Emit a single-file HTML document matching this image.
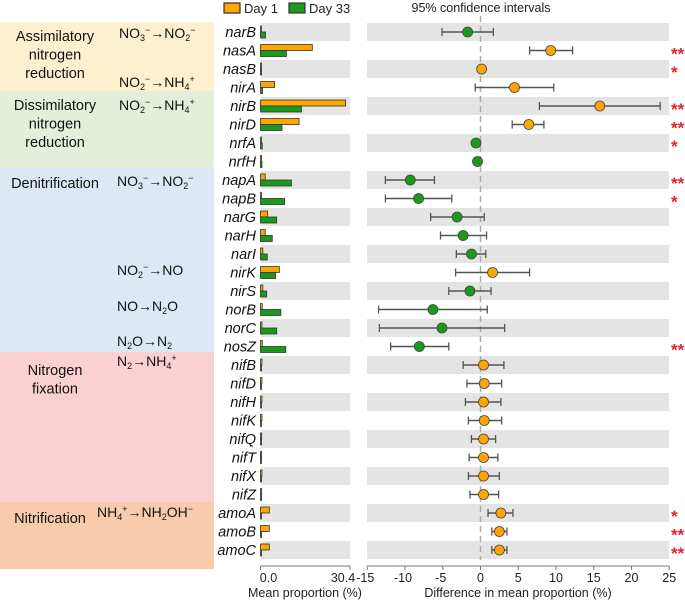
<!DOCTYPE html>
<html><head><meta charset="utf-8"><style>
body{margin:0;background:#fff;}
svg{display:block;font-family:"Liberation Sans",sans-serif;}
</style></head><body>
<svg id="c" width="685" height="600" viewBox="0 0 685 600">
<rect x="0" y="22.5" width="214" height="68.5" fill="#fdf0cf"/>
<rect x="0" y="91" width="214" height="77" fill="#e3efd9"/>
<rect x="0" y="168" width="214" height="184" fill="#dce8f5"/>
<rect x="0" y="352" width="214" height="150" fill="#fbd0d0"/>
<rect x="0" y="502" width="214" height="67" fill="#f8cbad"/>
<g font-size="14.5" fill="#111" text-anchor="middle">
<text x="55" y="41"><tspan x="55">Assimilatory</tspan><tspan x="55" dy="18.5">nitrogen</tspan><tspan x="55" dy="18.5">reduction</tspan></text>
<text x="55" y="110"><tspan x="55">Dissimilatory</tspan><tspan x="55" dy="18.5">nitrogen</tspan><tspan x="55" dy="18.5">reduction</tspan></text>
<text x="55" y="188">Denitrification</text>
<text x="55" y="375"><tspan x="55">Nitrogen</tspan><tspan x="55" dy="18.5">fixation</tspan></text>
<text x="50" y="523">Nitrification</text>
</g>
<g font-size="14" fill="#111">
<text x="119" y="38">NO<tspan font-size="9" dy="3">3</tspan><tspan font-size="9" dy="-8">−</tspan><tspan dy="5">→NO</tspan><tspan font-size="9" dy="3">2</tspan><tspan font-size="9" dy="-8">−</tspan></text>
<text x="119" y="87">NO<tspan font-size="9" dy="3">2</tspan><tspan font-size="9" dy="-8">−</tspan><tspan dy="5">→NH</tspan><tspan font-size="9" dy="3">4</tspan><tspan font-size="9" dy="-8">+</tspan></text>
<text x="119" y="110">NO<tspan font-size="9" dy="3">2</tspan><tspan font-size="9" dy="-8">−</tspan><tspan dy="5">→NH</tspan><tspan font-size="9" dy="3">4</tspan><tspan font-size="9" dy="-8">+</tspan></text>
<text x="117" y="186">NO<tspan font-size="9" dy="3">3</tspan><tspan font-size="9" dy="-8">−</tspan><tspan dy="5">→NO</tspan><tspan font-size="9" dy="3">2</tspan><tspan font-size="9" dy="-8">−</tspan></text>
<text x="117" y="275">NO<tspan font-size="9" dy="3">2</tspan><tspan font-size="9" dy="-8">−</tspan><tspan dy="5">→NO</tspan></text>
<text x="117" y="311">NO→N<tspan font-size="9" dy="3">2</tspan><tspan dy="-3">O</tspan></text>
<text x="117" y="346">N<tspan font-size="9" dy="3">2</tspan><tspan dy="-3">O→N</tspan><tspan font-size="9" dy="3">2</tspan></text>
<text x="117" y="366">N<tspan font-size="9" dy="3">2</tspan><tspan dy="-3">→NH</tspan><tspan font-size="9" dy="3">4</tspan><tspan font-size="9" dy="-8">+</tspan></text>
<text x="97" y="517">NH<tspan font-size="9" dy="3">4</tspan><tspan font-size="9" dy="-8">+</tspan><tspan dy="5">→NH</tspan><tspan font-size="9" dy="3">2</tspan><tspan dy="-3">OH</tspan><tspan font-size="9" dy="-5">−</tspan></text>
</g>
<g>
<rect x="224" y="3" width="16" height="10" fill="#ffa500" stroke="#333" stroke-width="1.2"/>
<text x="244" y="13" font-size="13" fill="#222">Day 1</text>
<rect x="289" y="3" width="16" height="10" fill="#1a9a1a" stroke="#333" stroke-width="1.2"/>
<text x="309" y="13" font-size="13" fill="#222">Day 33</text>
</g>
<text x="481" y="12" font-size="12.5" fill="#222" text-anchor="middle">95% confidence intervals</text>
<g id="plot"></g>
</svg>
<script>
const genes=["narB","nasA","nasB","nirA","nirB","nirD","nrfA","nrfH","napA","napB","narG","narH","narI","nirK","nirS","norB","norC","nosZ","nifB","nifD","nifH","nifK","nifQ","nifT","nifX","nifZ","amoA","amoB","amoC"];
const day1=[0.1,17.6,0.2,4.8,28.9,13.1,0.2,0.1,1.6,0.2,2.4,1.6,0.8,6.4,0.8,0.6,0.5,0.6,0.5,0.5,0.5,0.5,0.4,0.4,0.5,0.4,3.0,3.0,3.0];
const day33=[1.7,8.8,0.1,0.7,13.9,7.3,0.6,0.5,10.5,8.2,5.5,4.0,2.3,5.1,2.1,6.9,5.5,8.6,0.2,0.2,0.2,0.2,0.2,0.2,0.2,0.2,0.3,0.3,0.3];
const diff=[-1.7,9.3,0.15,4.5,15.8,6.4,-0.6,-0.4,-9.3,-8.2,-3.1,-2.3,-1.2,1.6,-1.4,-6.3,-5.1,-8.1,0.4,0.5,0.4,0.5,0.4,0.4,0.4,0.4,2.7,2.5,2.5];
const ciLow=[-5.1,6.5,0.15,-0.7,7.8,4.2,-0.6,-0.4,-12.6,-12.6,-6.6,-5.3,-3.2,-3.3,-4.2,-13.5,-13.4,-11.9,-2.3,-1.8,-2.0,-1.6,-1.2,-1.5,-1.6,-1.4,1.0,1.5,1.5];
const ciHigh=[1.7,12.2,0.15,9.7,23.8,8.4,-0.6,-0.4,-6.1,-3.8,0.5,0.8,0.7,6.5,1.4,0.9,3.2,-4.2,3.1,2.8,2.7,2.8,2.0,2.3,2.5,2.4,4.3,3.5,3.5];
const signif=["","**","*","","**","**","*","","**","*","","","","","","","","**","","","","","","","","","*","**","**"];
const diffTicks=[-15,-10,-5,0,5,10,15,20,25];
const propTicks=[0.0,30.4];

const NS="http://www.w3.org/2000/svg";
const g=document.getElementById("plot");
function mk(t,a,p){const e=document.createElementNS(NS,t);for(const k in a)e.setAttribute(k,a[k]);(p||g).appendChild(e);return e;}
const rowY=i=>32+i*18.5;
const xL=v=>260.5+v*(89.5/30.4);
const xR=v=>480.5+v*(302/40);

genes.forEach((gn,i)=>{
  const y=rowY(i);
  if(i%2===0){
    const b1=mk("rect",{x:261,y:y-9,width:89,height:18,fill:"#e4e4e4"});
    
    
    const b2=mk("rect",{x:367,y:y-9,width:302,height:18,fill:"#e4e4e4"});
    
    
  }
  const t=mk("text",{x:256,y:y+5,"font-size":14.5,"font-style":"italic","text-anchor":"end",fill:"#111"});
  t.textContent=gn;
  
  
});
const zl=mk("line",{x1:xR(0),x2:xR(0),y1:16,y2:560,stroke:"#aaa","stroke-width":1.5,"stroke-dasharray":"6,4"});



genes.forEach((gn,i)=>{
  const y=rowY(i);
  const w1=Math.max(xL(day1[i])-xL(0),1);
  const r1=mk("rect",{x:xL(0),y:y-6,width:w1,height:6,fill:"#ffa500",stroke:"#333","stroke-width":0.8});
  
  
  const w2=Math.max(xL(day33[i])-xL(0),1);
  const r2=mk("rect",{x:xL(0),y:y,width:w2,height:6,fill:"#1a9a1a",stroke:"#333","stroke-width":0.8});
  
  
  if(ciHigh[i]-ciLow[i]>0.3){
    const l=mk("line",{x1:xR(ciLow[i]),x2:xR(ciHigh[i]),y1:y,y2:y,stroke:"#555","stroke-width":1.5});
    
    
    [ciLow[i],ciHigh[i]].forEach(v=>{
      const c=mk("line",{x1:xR(v),x2:xR(v),y1:y-4,y2:y+4,stroke:"#555","stroke-width":1.3});
      
      
    });
  }
  const pt=mk("circle",{cx:xR(diff[i]),cy:y,r:5,fill:diff[i]>0?"#ffa500":"#1a9a1a",stroke:"#444","stroke-width":0.8});
  
  
  if(signif[i]){
    const s=mk("text",{x:671,y:y+9,"font-size":17,"font-weight":"bold",fill:"#e8202a"});
    s.textContent=signif[i];
    
    
  }
});
const axL=mk("line",{x1:260.5,x2:350,y1:566,y2:566,stroke:"#777","stroke-width":1});


propTicks.forEach((v,k)=>{
  const tk=mk("line",{x1:xL(v),x2:xL(v),y1:566,y2:570,stroke:"#777"});
  
  
  const tl=mk("text",{x:k===0?xL(v)+8:xL(v)-7,y:582,"font-size":12.5,"text-anchor":"middle",fill:"#222"});
  tl.textContent=v.toFixed(1);
  
  
});
const lt=mk("text",{x:305,y:597,"font-size":12.5,"text-anchor":"middle",fill:"#222"});
lt.textContent="Mean proportion (%)";


const axR=mk("line",{x1:xR(-15),x2:xR(25),y1:566,y2:566,stroke:"#777","stroke-width":1});


diffTicks.forEach(v=>{
  const tk=mk("line",{x1:xR(v),x2:xR(v),y1:566,y2:570,stroke:"#777"});
  
  
  const tl=mk("text",{x:xR(v)-(v<0?2:0),y:582,"font-size":12.5,"text-anchor":"middle",fill:"#222"});
  tl.textContent=v;
  
  
});
const rt=mk("text",{x:518,y:597,"font-size":12.5,"text-anchor":"middle",fill:"#222"});
rt.textContent="Difference in mean proportion (%)";


</script>
</body></html>
